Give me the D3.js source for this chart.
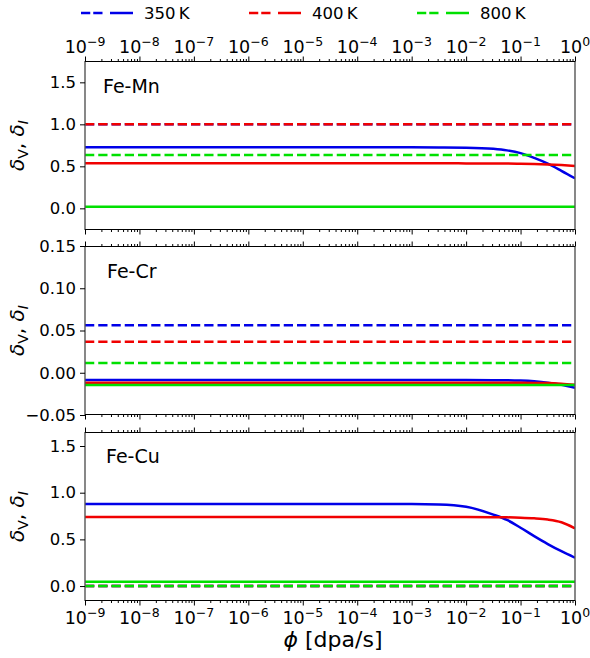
<!DOCTYPE html>
<html><head><meta charset="utf-8">
<script src="https://cdn.jsdelivr.net/npm/d3@7"></script>
<style>
body{margin:0;background:#fff}
svg{display:block}
text{font-family:"DejaVu Sans",sans-serif;fill:#000}
</style>
</head><body>
<svg id="c" width="590" height="658"></svg>
<script>
// ---------------- data ----------------
const temperatures = ["350", "400", "800"];
const alloys = ["Fe-Mn", "Fe-Cr", "Fe-Cu"];
const xExponents = [-9, -8, -7, -6, -5, -4, -3, -2, -1, 0];
const logPhiGrid = [-9, -3, -2.5, -2, -1.5, -1.25, -1, -0.75, -0.5, -0.25, 0];

// Fe-Mn
const feMnDeltaV350 = [1.0, 1.0, 1.0, 1.0, 1.0, 1.0, 1.0, 1.0, 1.0, 1.0, 1.0];
const feMnDeltaV400 = [1.0, 1.0, 1.0, 1.0, 1.0, 1.0, 1.0, 1.0, 1.0, 1.0, 1.0];
const feMnDeltaV800 = [0.635, 0.635, 0.635, 0.635, 0.635, 0.635, 0.635, 0.635, 0.635, 0.635, 0.635];
const feMnDeltaI350 = [0.726, 0.726, 0.725, 0.722, 0.708, 0.69, 0.657, 0.6, 0.532, 0.447, 0.357];
const feMnDeltaI400 = [0.536, 0.536, 0.536, 0.535, 0.534, 0.533, 0.531, 0.527, 0.522, 0.515, 0.505];
const feMnDeltaI800 = [0.02, 0.02, 0.02, 0.02, 0.02, 0.02, 0.02, 0.02, 0.02, 0.02, 0.02];
const feMnYTicks = [0.0, 0.5, 1.0, 1.5];

// Fe-Cr
const feCrDeltaV350 = [0.0563, 0.0563, 0.0563, 0.0563, 0.0563, 0.0563, 0.0563, 0.0563, 0.0563, 0.0563, 0.0563];
const feCrDeltaV400 = [0.0367, 0.0367, 0.0367, 0.0367, 0.0367, 0.0367, 0.0367, 0.0367, 0.0367, 0.0367, 0.0367];
const feCrDeltaV800 = [0.0114, 0.0114, 0.0114, 0.0114, 0.0114, 0.0114, 0.0114, 0.0114, 0.0114, 0.0114, 0.0114];
const feCrDeltaI350 = [-0.0087, -0.0087, -0.0087, -0.0087, -0.0088, -0.0089, -0.0093, -0.0102, -0.0118, -0.0143, -0.0178];
const feCrDeltaI400 = [-0.0118, -0.0118, -0.0118, -0.0118, -0.0118, -0.0119, -0.0119, -0.012, -0.0122, -0.013, -0.0142];
const feCrDeltaI800 = [-0.0146, -0.0146, -0.0146, -0.0146, -0.0146, -0.0146, -0.0146, -0.0146, -0.0146, -0.0146, -0.0146];
const feCrYTicks = [-0.05, 0.0, 0.05, 0.10, 0.15];

// Fe-Cu
const feCuDeltaV350 = [0.0, 0.0, 0.0, 0.0, 0.0, 0.0, 0.0, 0.0, 0.0, 0.0, 0.0];
const feCuDeltaV400 = [0.0, 0.0, 0.0, 0.0, 0.0, 0.0, 0.0, 0.0, 0.0, 0.0, 0.0];
const feCuDeltaV800 = [0.0, 0.0, 0.0, 0.0, 0.0, 0.0, 0.0, 0.0, 0.0, 0.0, 0.0];
const feCuDeltaI350 = [0.879, 0.878, 0.874, 0.85, 0.765, 0.708, 0.625, 0.535, 0.45, 0.373, 0.303];
const feCuDeltaI400 = [0.739, 0.739, 0.739, 0.739, 0.738, 0.736, 0.732, 0.725, 0.712, 0.683, 0.618];
const feCuDeltaI800 = [0.046, 0.046, 0.046, 0.046, 0.046, 0.046, 0.046, 0.046, 0.046, 0.046, 0.046];
const feCuYTicks = [0.0, 0.5, 1.0, 1.5];

// ---------------- presentation ----------------
const colors = ["#0000e8", "#f00000", "#00e000"];
const panels = [
  {name: alloys[0], yDomain: [-0.258, 1.754], ticks: feMnYTicks, fmt: d3.format(".1f"),
   dv: [feMnDeltaV350, feMnDeltaV400, feMnDeltaV800], di: [feMnDeltaI350, feMnDeltaI400, feMnDeltaI800],
   top: 61, labelPos: [103, 93]},
  {name: alloys[1], yDomain: [-0.05, 0.15], ticks: feCrYTicks, fmt: d3.format(".2f"),
   dv: [feCrDeltaV350, feCrDeltaV400, feCrDeltaV800], di: [feCrDeltaI350, feCrDeltaI400, feCrDeltaI800],
   top: 246, labelPos: [107, 278]},
  {name: alloys[2], yDomain: [-0.16, 1.65], ticks: feCuYTicks, fmt: d3.format(".1f"),
   dv: [feCuDeltaV350, feCuDeltaV400, feCuDeltaV800], di: [feCuDeltaI350, feCuDeltaI400, feCuDeltaI800],
   top: 432, labelPos: [106, 463]}
];
const PH = 169, X0 = 85, X1 = 575;
const LW = 2.5, DASH = "9.25,4";
const tickFont = 16.5;

const svg = d3.select("#c");
const x = d3.scaleLog().domain([1e-9, 1]).range([X0, X1]);
const majors = xExponents.map(e => Math.pow(10, e));
const minors = [];
xExponents.slice(0, -1).forEach(e => { for (let k = 2; k <= 9; k++) minors.push(k * Math.pow(10, e)); });

function xLabels(g, yBase) {
  xExponents.forEach(e => {
    const t = g.append("text").attr("x", x(Math.pow(10, e))).attr("y", yBase)
      .attr("text-anchor", "middle").style("font-size", "17.5px");
    t.append("tspan").text("10");
    t.append("tspan").attr("dy", -7.5).style("font-size", "12.5px").text(e === 0 ? "0" : "\u2212" + Math.abs(e));
  });
}

panels.forEach((p, i) => {
  const top = p.top, bot = top + PH;
  const y = d3.scaleLinear().domain(p.yDomain).range([bot, top]);
  const g = svg.append("g");
  const clipId = "clip" + i;
  svg.append("clipPath").attr("id", clipId).append("rect")
    .attr("x", X0).attr("y", top).attr("width", X1 - X0).attr("height", PH);
  const line = d3.line().x((d, j) => x(Math.pow(10, logPhiGrid[j]))).y(d => y(d)).curve(d3.curveMonotoneX);
  const lg = g.append("g").attr("clip-path", `url(#${clipId})`);
  for (let s = 0; s < 3; s++) {
    lg.append("path").attr("d", line(p.dv[s])).attr("fill", "none").attr("stroke", colors[s])
      .attr("stroke-width", LW).attr("stroke-dasharray", DASH);
    lg.append("path").attr("d", line(p.di[s])).attr("fill", "none").attr("stroke", colors[s])
      .attr("stroke-width", LW);
  }
  // spines
  g.append("line").attr("x1", X0).attr("x2", X0).attr("y1", top).attr("y2", bot).attr("stroke", "#555").attr("stroke-width", 1.4);
  g.append("line").attr("x1", X1).attr("x2", X1).attr("y1", top).attr("y2", bot).attr("stroke", "#555").attr("stroke-width", 1.4);
  g.append("line").attr("x1", X0).attr("x2", X1).attr("y1", top + 0.5).attr("y2", top + 0.5).attr("stroke", "#000");
  g.append("line").attr("x1", X0).attr("x2", X1).attr("y1", bot - 0.5).attr("y2", bot - 0.5).attr("stroke", "#000");

  // x ticks top & bottom
  [[top + 0.5, d3.axisTop], [bot - 0.5, d3.axisBottom]].forEach(([yy, ax]) => {
    const a1 = g.append("g").attr("transform", `translate(0,${yy})`)
      .call(ax(x).tickValues(majors).tickSize(5).tickFormat(""));
    const a2 = g.append("g").attr("transform", `translate(0,${yy})`)
      .call(ax(x).tickValues(minors).tickSize(2.5).tickFormat(""));
    [a1, a2].forEach(a => { a.select(".domain").remove(); a.selectAll("line").attr("stroke", "#000"); });
  });
  // y axis
  const ya = g.append("g").attr("transform", `translate(${X0},0)`)
    .call(d3.axisLeft(y).tickValues(p.ticks).tickSize(5).tickPadding(4).tickFormat(p.fmt));
  ya.select(".domain").remove();
  ya.selectAll("line").attr("stroke", "#000");
  ya.selectAll("text").style("font-size", tickFont + "px").attr("font-family", "DejaVu Sans");

  // panel label
  g.append("text").attr("x", p.labelPos[0]).attr("y", p.labelPos[1]).style("font-size", "19px").text(p.name);

  // y label
  const yl = g.append("text").attr("transform", `translate(24,${(top + bot) / 2}) rotate(-90)`)
    .attr("text-anchor", "middle").style("font-size", "20px");
  yl.append("tspan").style("font-style", "italic").text("\u03b4");
  yl.append("tspan").attr("dy", 4).style("font-size", "14px").text("V");
  yl.append("tspan").attr("dy", -4).text(", ");
  yl.append("tspan").style("font-style", "italic").text("\u03b4");
  yl.append("tspan").attr("dy", 4).style("font-size", "14px").style("font-style", "italic").text("I");

  if (i === 0) xLabels(g, 53);
  if (i === 2) xLabels(g, 624);
});

// x label
const xl = svg.append("text").attr("x", 333).attr("y", 647).attr("text-anchor", "middle")
  .style("font-size", "22px");
xl.append("tspan").style("font-style", "italic").text("\u03d5");
xl.append("tspan").text(" [dpa/s]");

// legend
const legX = [81, 249, 417];
temperatures.forEach((t, s) => {
  const lx = legX[s];
  svg.append("line").attr("x1", lx).attr("x2", lx + 21.5).attr("y1", 13).attr("y2", 13)
    .attr("stroke", colors[s]).attr("stroke-width", LW).attr("stroke-dasharray", "9.25,3");
  svg.append("line").attr("x1", lx + 29).attr("x2", lx + 52).attr("y1", 13).attr("y2", 13)
    .attr("stroke", colors[s]).attr("stroke-width", LW);
  svg.append("text").attr("x", lx + 63).attr("y", 19).style("font-size", tickFont + "px").text(t + "\u2009K");
});
</script>
</body></html>
